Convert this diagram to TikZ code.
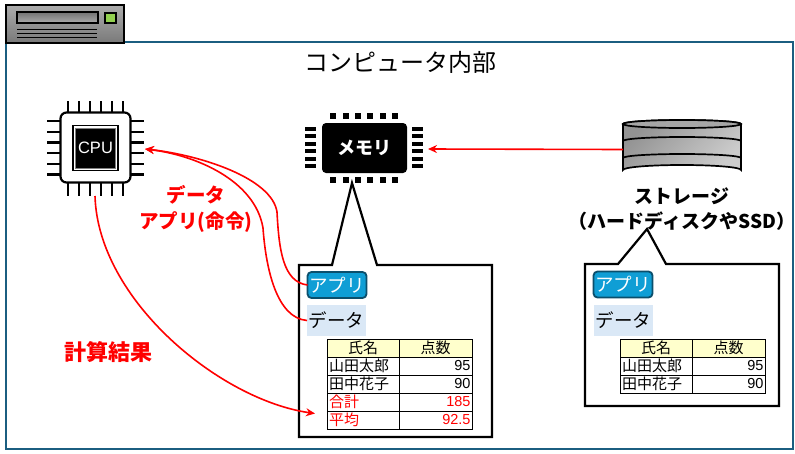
\documentclass[tikz,border=0pt]{standalone}
\usepackage{fontspec}
\setmainfont{Noto Sans CJK JP}
\newfontfamily\latinfont{Liberation Sans}
\usetikzlibrary{arrows.meta}
\definecolor{frameblue}{HTML}{1B5E80}
\definecolor{appblue}{HTML}{0F9ED5}
\definecolor{appedge}{HTML}{0B4F6C}
\definecolor{datablue}{HTML}{DAE8F6}
\definecolor{headyellow}{HTML}{FFFFCC}
\definecolor{ledgreen}{HTML}{92D050}
\tikzset{
  x=1pt,y=-1pt,
  every node/.style={outer sep=0pt},
  appbox/.style={draw=appedge,line width=1.8pt,fill=appblue,rounded corners=4pt,minimum width=59pt,minimum height=26pt,inner sep=0pt,text=white,font=\fontsize{18.5}{18.5}\selectfont},
  databox/.style={fill=datablue,minimum width=59pt,minimum height=31pt,inner sep=0pt,font=\fontsize{18.5}{18.5}\selectfont},
  callout/.style={draw=black,line width=2.2pt,fill=white,line join=miter},
  flow/.style={draw=red,line width=1.6pt,-{Stealth[length=9pt,width=8pt]}},
  redlabel/.style={text=red,font=\fontsize{19.5}{19.5}\selectfont\bfseries,inner sep=0pt},
  blacklabel/.style={font=\fontsize{19}{19}\selectfont\bfseries,inner sep=0pt},
  cell/.style={draw=black,line width=1pt,minimum height=18pt,inner sep=0pt,anchor=north west},
  namecell/.style={cell,minimum width=72pt,text width=68pt,align=left,font=\fontsize{15}{15}\selectfont},
  numcell/.style={cell,minimum width=73pt,text width=70pt,align=right,font=\fontsize{14.5}{14.5}\selectfont\latinfont},
  headcell/.style={cell,fill=headyellow,font=\fontsize{15}{15}\selectfont},
  pin/.style={draw=black,line width=2.2pt},
  disc/.style={draw=black,line width=1.7pt},
}
\newcommand{\scoretable}[3]{% x, y, name prefix
  \begin{scope}[shift={(#1,#2)}]
    \node[headcell,minimum width=72pt] (#3h1) at (0,0) {氏名};
    \node[headcell,minimum width=73pt] (#3h2) at (72,0) {点数};
    \node[namecell] (#3a1) at (0,18) {山田太郎};
    \node[numcell] (#3a2) at (72,18) {95};
    \node[namecell] (#3b1) at (0,36) {田中花子};
    \node[numcell] (#3b2) at (72,36) {90};
  \end{scope}
}
\begin{document}
\begin{tikzpicture}
\useasboundingbox (0,0) rectangle (795,453);
% frame
\node[draw=frameblue,line width=2pt,minimum width=787pt,minimum height=407pt,inner sep=0pt,anchor=north west] (frame) at (6,42) {};
% server
\node[draw=black,line width=2.2pt,top color=gray!65,bottom color=gray!95!black,minimum width=118pt,minimum height=38pt,inner sep=0pt,anchor=north west] (server) at (6,5) {};
\node[draw=black,line width=2pt,top color=gray!90!black,bottom color=gray!65,minimum width=81pt,minimum height=11pt,inner sep=0pt,anchor=north west] (slot) at (17,12) {};
\node[draw=black,line width=2pt,fill=ledgreen,minimum width=11pt,minimum height=10pt,inner sep=0pt,anchor=north west] (led) at (105,13) {};
\foreach \y in {29.5,33.5,37.5} \draw[black,line width=0.9pt] (17,\y) -- (97,\y);
\node[font=\fontsize{24}{24}\selectfont,inner sep=0pt] (title) at (400,62) {コンピュータ内部};
% CPU
\foreach \p in {68,79,90,101,112,123} {
  \draw[pin] (\p,101) -- (\p,113);
  \draw[pin] (\p,182) -- (\p,196);
}
\foreach \p in {121,132,142.5,153,164,174.5} {
  \draw[pin] (47,\p) -- (61,\p);
  \draw[pin] (130,\p) -- (144,\p);
}
\node[draw=black,line width=2.2pt,fill=white,rounded corners=6pt,minimum width=70pt,minimum height=70pt,inner sep=0pt,anchor=north west] (cpu) at (60.5,112.5) {};
\node[draw=black,line width=1.8pt,fill=white,minimum width=45pt,minimum height=45pt,inner sep=0pt,anchor=north west] (cpuring) at (73,125.5) {};
\node[fill=black,draw=gray,line width=0.9pt,minimum width=40pt,minimum height=40pt,inner sep=0pt,text=white,font=\fontsize{16.5}{16.5}\selectfont\latinfont] (cpucore) at (cpuring.center) {CPU};
\coordinate (cpuin) at (145,149);
% memory
\foreach \p in {333,346,358,370,383,395} {
  \fill[black] (\p-3,113) rectangle (\p+3,119);
  \fill[black] (\p-3,177) rectangle (\p+3,183);
}
\foreach \p in {129,136,143.5,151,158.5,166} {
  \fill[black] (305,\p-2) rectangle (316,\p+2);
  \fill[black] (412,\p-2) rectangle (423,\p+2);
}
\node[fill=black,rounded corners=4pt,minimum width=85pt,minimum height=50pt,inner sep=0pt,text=white,font=\fontsize{18}{18}\selectfont\bfseries,anchor=north west] (mem) at (322,123) {メモリ};
\coordinate (memin) at (428,149);
% storage
\shade[left color=gray!85,right color=gray!40,shading angle=45,draw=black,line width=1.7pt]
  (623,124) -- (623,170) arc[start angle=180,end angle=360,x radius=59,y radius=5] -- (741,124) arc[start angle=360,end angle=180,x radius=59,y radius=4] -- cycle;
\filldraw[disc,fill=gray!70] (682,124) ellipse[x radius=59,y radius=4];
\draw[disc] (623,141) arc[start angle=180,end angle=360,x radius=59,y radius=4];
\draw[disc] (623,158) arc[start angle=180,end angle=360,x radius=59,y radius=4];
\coordinate (storout) at (623,149.5);
% callouts
\draw[callout] (299,265) -- (332,265) -- (352,183) -- (377,265) -- (492,265) -- (492,437) -- (299,437) -- cycle;
\draw[callout] (585,264) -- (618,264) -- (647,229) -- (666,264) -- (779,264) -- (779,406) -- (585,406) -- cycle;
\node[blacklabel] (storlabel1) at (682,196) {ストレージ};
\node[blacklabel] (storlabel2) at (682,221) {（ハードディスクやSSD）};
% memory contents
\node[appbox,anchor=north west] (app1) at (307.5,272) {アプリ};
\node[databox,anchor=north west] (data1) at (307,305) {データ};
\scoretable{327}{339}{m}
\node[namecell,text=red] (mc1) at (327,393) {合計};
\node[numcell,text=red] (mc2) at (399,393) {185};
\node[namecell,text=red] (md1) at (327,411) {平均};
\node[numcell,text=red] (md2) at (399,411) {92.5};
\coordinate (sumin) at (315,413.5);
% storage contents
\node[appbox,anchor=north west] (app2) at (593.5,271.5) {アプリ};
\node[databox,anchor=north west] (data2) at (594,305) {データ};
\scoretable{620}{339}{s}
% labels
\node[redlabel] (lab1) at (196,195) {データ};
\node[redlabel] (lab2) at (196,222) {アプリ(命令)};
\node[redlabel,font=\fontsize{22}{22}\selectfont\bfseries] (lab3) at (108,352) {計算結果};
% connectors
\draw[flow] (storout) -- (memin);
\draw[flow] (app1.west) .. controls (283,282) and (279,250) .. (277,212) .. controls (272,178) and (200,155) .. (cpuin);
\draw[flow] (data1.west) .. controls (277,318) and (266,270) .. (263,228) .. controls (255,180) and (195,155) .. (cpuin);
\coordinate (cpubot) at (95,196);
\draw[flow] (cpubot) .. controls (98,300) and (220,400) .. (sumin);
\end{tikzpicture}
\end{document}
